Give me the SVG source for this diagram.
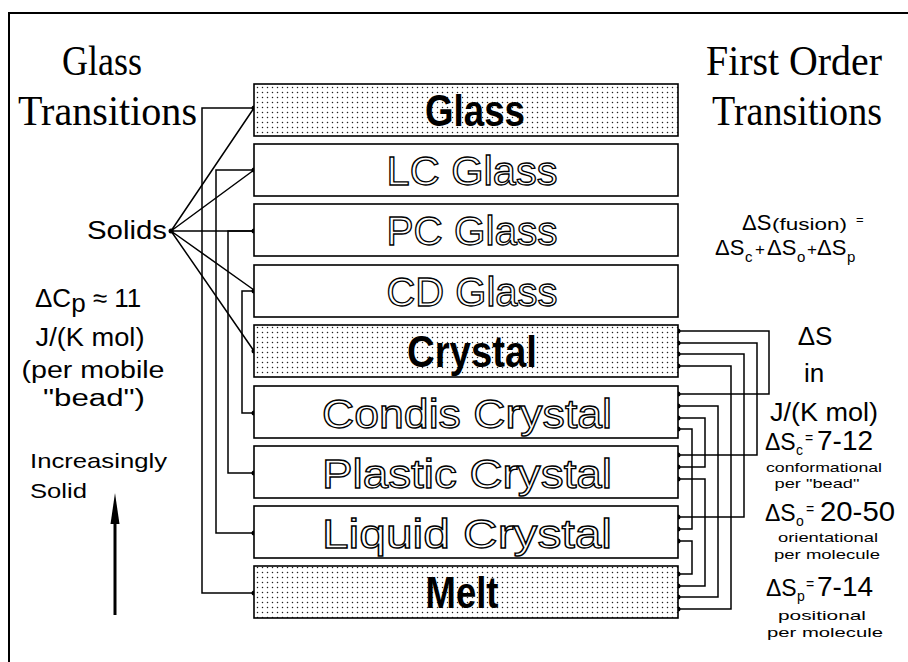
<svg xmlns="http://www.w3.org/2000/svg" width="908" height="662" viewBox="0 0 908 662">
<style>
.frame{fill:none;stroke:#000;stroke-width:2}
.box{stroke:#000;stroke-width:1.6}
.plain{fill:#fff}
.dots{fill:url(#stipple)}
.conn{fill:none;stroke:#000;stroke-width:1.5}
.dot{fill:#000}
.head{font-family:"Liberation Serif",serif;font-size:42px;fill:#000}
.lblF{font-family:"Liberation Sans",sans-serif;font-weight:bold;font-size:44px;fill:#000;text-anchor:middle}
.lblO{font-family:"Liberation Sans",sans-serif;font-size:40px;fill:#fff;stroke:#000;stroke-width:1.3;text-anchor:middle}
.sans{font-family:"Liberation Sans",sans-serif;fill:#000}
.mid{text-anchor:middle}
</style>
<defs>
<pattern id="stipple" width="5" height="5" patternUnits="userSpaceOnUse">
<rect width="5" height="5" fill="#fff"/>
<circle cx="2.5" cy="2.5" r="0.75" fill="#222"/>
</pattern>
</defs>
<rect width="908" height="662" fill="#fff"/>
<polyline class="frame" points="9,662 9,13 908,13"/>

<g id="headers">
<text class="head" x="62" y="75" textLength="80" lengthAdjust="spacingAndGlyphs">Glass</text>
<text class="head" x="18" y="125" textLength="179" lengthAdjust="spacingAndGlyphs">Transitions</text>
<text class="head" x="706" y="75" textLength="176" lengthAdjust="spacingAndGlyphs">First Order</text>
<text class="head" x="712" y="125" textLength="170" lengthAdjust="spacingAndGlyphs">Transitions</text>
</g>

<g id="connectors">
<path class="conn" d="M171,231 L254,108 M171,231 L254,170 M171,231 L254,231 M171,231 L254,290 M171,231 L254,351"/>
<path class="conn" d="M254,108 H202 V593 H254 M254,170 H216 V533 H254 M254,231 H228 V473 H254 M254,291 H242 V413 H254"/>
<path class="conn" d="M678,331 H769 V394 H678 M678,343 H757 V455 H678 M678,354 H744 V517 H678 M678,366 H731 V609 H678 M678,406 H718 V597 H678 M678,418 H705 V467 H678 M678,429 H692 V529 H678 M678,479 H705 V586 H678 M678,541 H692 V574 H678"/>
<g class="dot">
<circle cx="171" cy="231" r="2.5"/>
<circle cx="254" cy="108" r="2.5"/><circle cx="254" cy="170" r="2.5"/><circle cx="254" cy="231" r="2.5"/><circle cx="254" cy="291" r="2.5"/><circle cx="254" cy="351" r="2.5"/>
<circle cx="254" cy="413" r="2.5"/><circle cx="254" cy="473" r="2.5"/><circle cx="254" cy="533" r="2.5"/><circle cx="254" cy="593" r="2.5"/>
<circle cx="678" cy="331" r="2.5"/><circle cx="678" cy="343" r="2.5"/><circle cx="678" cy="354" r="2.5"/><circle cx="678" cy="366" r="2.5"/>
<circle cx="678" cy="394" r="2.5"/><circle cx="678" cy="406" r="2.5"/><circle cx="678" cy="418" r="2.5"/><circle cx="678" cy="429" r="2.5"/>
<circle cx="678" cy="455" r="2.5"/><circle cx="678" cy="467" r="2.5"/><circle cx="678" cy="479" r="2.5"/>
<circle cx="678" cy="517" r="2.5"/><circle cx="678" cy="529" r="2.5"/><circle cx="678" cy="541" r="2.5"/>
<circle cx="678" cy="574" r="2.5"/><circle cx="678" cy="586" r="2.5"/><circle cx="678" cy="597" r="2.5"/><circle cx="678" cy="609" r="2.5"/>
</g>
</g>

<g id="glass"><rect class="box dots" x="254" y="84" width="424" height="52"/><text class="lblF" x="475" y="126" textLength="100" lengthAdjust="spacingAndGlyphs">Glass</text></g>
<g id="lc-glass"><rect class="box plain" x="254" y="144" width="424" height="52"/><text class="lblO" x="472" y="185" textLength="171" lengthAdjust="spacingAndGlyphs">LC Glass</text></g>
<g id="pc-glass"><rect class="box plain" x="254" y="204" width="424" height="52"/><text class="lblO" x="472" y="245" textLength="171" lengthAdjust="spacingAndGlyphs">PC Glass</text></g>
<g id="cd-glass"><rect class="box plain" x="254" y="265" width="424" height="52"/><text class="lblO" x="472" y="306" textLength="171" lengthAdjust="spacingAndGlyphs">CD Glass</text></g>
<g id="crystal"><rect class="box dots" x="254" y="325" width="424" height="52"/><text class="lblF" x="472" y="367" textLength="130" lengthAdjust="spacingAndGlyphs">Crystal</text></g>
<g id="condis-crystal"><rect class="box plain" x="254" y="386" width="424" height="52"/><text class="lblO" x="467" y="428" textLength="290" lengthAdjust="spacingAndGlyphs">Condis Crystal</text></g>
<g id="plastic-crystal"><rect class="box plain" x="254" y="446" width="424" height="52"/><text class="lblO" x="467" y="488" textLength="290" lengthAdjust="spacingAndGlyphs">Plastic Crystal</text></g>
<g id="liquid-crystal"><rect class="box plain" x="254" y="506" width="424" height="52"/><text class="lblO" x="467" y="548" textLength="290" lengthAdjust="spacingAndGlyphs">Liquid  Crystal</text></g>
<g id="melt"><rect class="box dots" x="254" y="566" width="424" height="52"/><text class="lblF" x="462" y="608" textLength="73" lengthAdjust="spacingAndGlyphs">Melt</text></g>

<g id="left-notes" class="sans">
<text x="87" y="239" font-size="25" textLength="80" lengthAdjust="spacingAndGlyphs">Solids</text>
<text x="35" y="307" font-size="26">ΔC<tspan dy="5">p</tspan><tspan dy="-5"> ≈ 11</tspan></text>
<text class="mid" x="90" y="346" font-size="25" textLength="109" lengthAdjust="spacingAndGlyphs">J/(K mol)</text>
<text class="mid" x="93" y="378" font-size="23" textLength="143" lengthAdjust="spacingAndGlyphs">(per  mobile</text>
<text class="mid" x="94" y="406" font-size="23" textLength="102" lengthAdjust="spacingAndGlyphs">"bead")</text>
<text x="30" y="468" font-size="21" textLength="137" lengthAdjust="spacingAndGlyphs">Increasingly</text>
<text x="30" y="498" font-size="21" textLength="57" lengthAdjust="spacingAndGlyphs">Solid</text>
</g>
<g id="arrow">
<line x1="115" y1="615" x2="115" y2="515" stroke="#000" stroke-width="3"/>
<polygon points="115,493 119.5,524 110.5,524" fill="#000"/>
</g>

<g id="right-notes" class="sans">
<text y="230"><tspan x="742" font-size="22">ΔS</tspan><tspan x="772" font-size="17" textLength="75" lengthAdjust="spacingAndGlyphs">(fusion)</tspan><tspan x="856" y="224" font-size="13">=</tspan></text>
<text y="255" font-size="22"><tspan x="715">ΔS</tspan><tspan x="745" y="262" font-size="15">c</tspan><tspan x="755" y="255" font-size="17">+</tspan><tspan x="767">ΔS</tspan><tspan x="797" y="262" font-size="15">o</tspan><tspan x="807" y="255" font-size="17">+</tspan><tspan x="817">ΔS</tspan><tspan x="847" y="262" font-size="15">p</tspan></text>
<text class="mid" x="815" y="345" font-size="26">ΔS</text>
<text class="mid" x="814" y="382" font-size="26">in</text>
<text class="mid" x="824" y="421" font-size="26" textLength="108" lengthAdjust="spacingAndGlyphs">J/(K mol)</text>
<text y="450"><tspan x="765" font-size="23">ΔS</tspan><tspan x="796" y="455" font-size="14">c</tspan><tspan x="805" y="443" font-size="14">=</tspan><tspan x="817" y="450" font-size="28">7-12</tspan></text>
<text class="mid" x="824" y="472" font-size="13.5" textLength="116" lengthAdjust="spacingAndGlyphs">conformational</text>
<text class="mid" x="817" y="488" font-size="13.5" textLength="85" lengthAdjust="spacingAndGlyphs">per "bead"</text>
<text y="521"><tspan x="765" font-size="23">ΔS</tspan><tspan x="796" y="526" font-size="14">o</tspan><tspan x="806" y="514" font-size="14">=</tspan><tspan x="820" y="521" font-size="28" textLength="75" lengthAdjust="spacingAndGlyphs">20-50</tspan></text>
<text class="mid" x="828" y="542" font-size="13.5" textLength="100" lengthAdjust="spacingAndGlyphs">orientational</text>
<text class="mid" x="827" y="559" font-size="13.5" textLength="106" lengthAdjust="spacingAndGlyphs">per molecule</text>
<text y="596"><tspan x="766" font-size="23">ΔS</tspan><tspan x="797" y="601" font-size="14">p</tspan><tspan x="806" y="589" font-size="14">=</tspan><tspan x="817" y="596" font-size="28">7-14</tspan></text>
<text class="mid" x="822" y="620" font-size="13.5" textLength="88" lengthAdjust="spacingAndGlyphs">positional</text>
<text class="mid" x="825" y="637" font-size="13.5" textLength="116" lengthAdjust="spacingAndGlyphs">per molecule</text>
</g>
</svg>
